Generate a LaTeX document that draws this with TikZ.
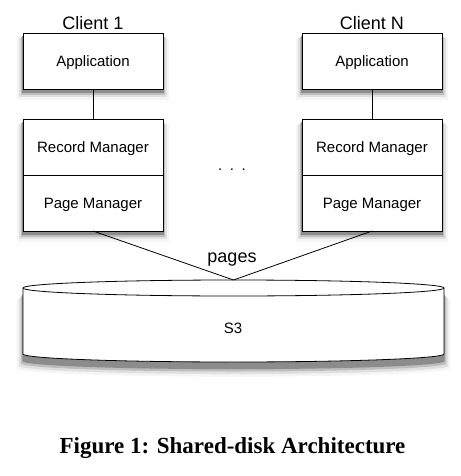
\documentclass[tikz,border=0pt]{standalone}
\usepackage{fontspec}
\setmainfont{Liberation Sans}
\newfontfamily\capfont{Liberation Serif}
\usepackage{tikz}
\usetikzlibrary{shadows}
\tikzstyle{soft} = [general shadow={fill=black!4, shadow yshift=-8pt, shadow scale=1.08},
                    general shadow={fill=black!12, shadow yshift=-6.5pt, shadow scale=1.055},
                    general shadow={fill=black!26, shadow yshift=-5pt, shadow scale=1.03},
                    general shadow={fill=black!45, shadow yshift=-3.5pt, shadow scale=1.01}]
\tikzstyle{softdisk} = [general shadow={fill=black!4, shadow yshift=-13pt, shadow scale=1.03},
                    general shadow={fill=black!12, shadow yshift=-11pt, shadow scale=1.02},
                    general shadow={fill=black!26, shadow yshift=-9pt, shadow scale=1.01},
                    general shadow={fill=black!45, shadow yshift=-7pt, shadow scale=1.003}]
\tikzstyle{layer} = [rectangle, minimum width=140pt, minimum height=56pt, text height=10.7pt, text depth=0pt, text centered, draw=black, fill=white, line width=0.8pt, outer sep=0pt, font=\fontsize{15}{18}\selectfont, soft]
\tikzstyle{title} = [font=\fontsize{18}{21}\selectfont]
\tikzstyle{link} = [line width=0.8pt]

\begin{document}
\begin{tikzpicture}[node distance=56pt]
      \useasboundingbox (0,0) rectangle (460pt,-476pt);
      \node (app1) [layer] at (93pt,-61pt) {Application};
      \node (rec1) [layer, below of=app1, yshift=-30pt] {Record Manager};
      \node (pag1) [layer, below of=rec1] {Page Manager};
      \node (cl1) [title] at (93pt,-23pt) {Client 1};
      \node (appN) [layer] at (372pt,-61pt) {Application};
      \node (recN) [layer, below of=appN, yshift=-30pt] {Record Manager};
      \node (pagN) [layer, below of=recN] {Page Manager};
      \node (clN) [title] at (372pt,-23pt) {Client N};
      \node (more) [anchor=base, font=\fontsize{15}{18}\selectfont] at (232pt,-170pt) {.\hspace{2pt} .\hspace{2pt} .};
      % S3 disk
      \node (s3) [minimum width=421pt, minimum height=66pt, outer sep=0pt] at (233.5pt,-321pt) {};
      \draw [fill=white, line width=0.8pt, softdisk] (s3.north west) -- (s3.south west)
            arc[start angle=180, end angle=360, x radius=210.5pt, y radius=8pt] -- (s3.north east)
            arc[start angle=0, end angle=180, x radius=210.5pt, y radius=8pt] -- cycle;
      \draw [line width=0.8pt] (s3.north west) arc[start angle=180, end angle=360, x radius=210.5pt, y radius=8pt];
      \coordinate (s3top) at ([yshift=8pt]s3.north);
      \node (s3lbl) [anchor=base, font=\fontsize{15}{18}\selectfont] at (233pt,-333pt) {S3};
      \draw [link] (app1) -- (rec1);
      \draw [link] (appN) -- (recN);
      \draw [link] (pag1.south) -- (s3top);
      \draw [link] (pagN.south) -- (s3top);
      \node (pg) [anchor=base, title] at (232pt,-262pt) {pages};
      \node (cap) [anchor=base, font=\capfont\bfseries\fontsize{23}{27}\selectfont] at (232.5pt,-453pt) {Figure 1: Shared-disk Architecture};
    \end{tikzpicture}
\end{document}
